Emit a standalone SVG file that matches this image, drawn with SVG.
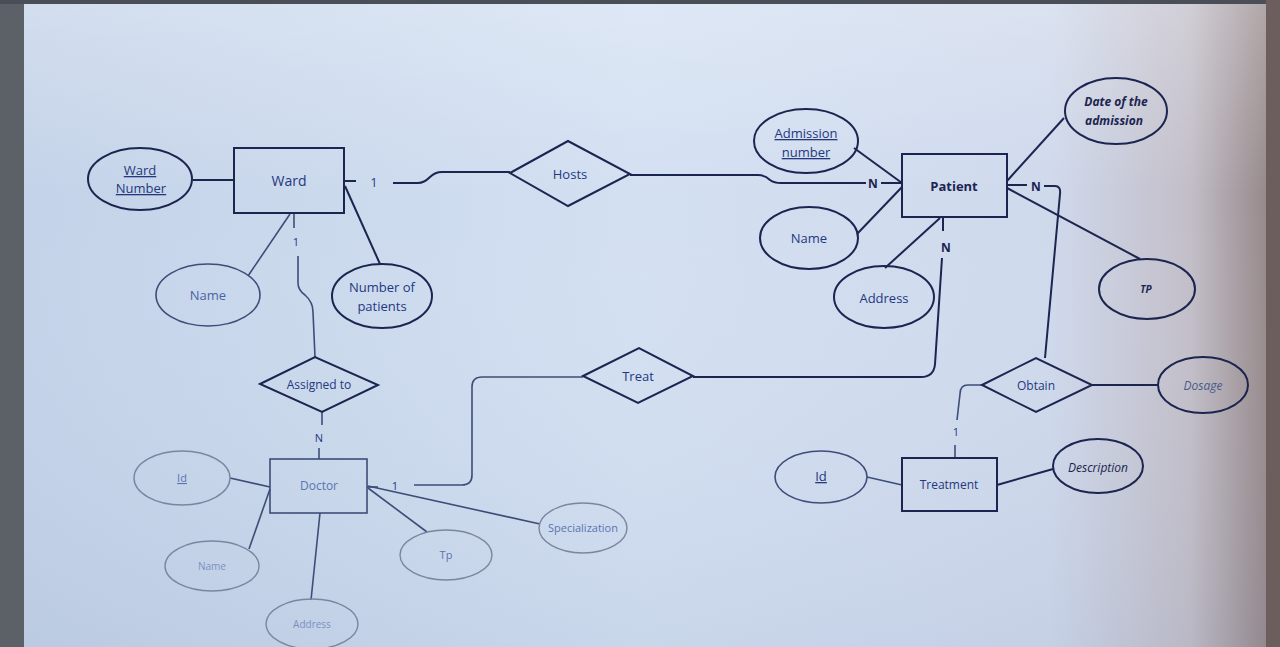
<svg xmlns="http://www.w3.org/2000/svg" width="1280" height="647" viewBox="0 0 1280 647">
<defs>
<linearGradient id="bg" x1="0" y1="0" x2="1" y2="0">
<stop offset="0" stop-color="#c3d2e8"/>
<stop offset="0.5" stop-color="#d3e0f2"/>
<stop offset="0.82" stop-color="#cfd9ec"/>
<stop offset="0.93" stop-color="#c2bec8"/>
<stop offset="1" stop-color="#8f8080"/>
</linearGradient>
<linearGradient id="bgv" x1="0" y1="0" x2="0" y2="1">
<stop offset="0" stop-color="#ffffff" stop-opacity="0.25"/>
<stop offset="0.3" stop-color="#ffffff" stop-opacity="0"/>
<stop offset="1" stop-color="#6a80a8" stop-opacity="0.1"/>
</linearGradient>
<style>
.s{fill:none;stroke:#1c2550;stroke-width:2}
.sl{fill:none;stroke:#3d4d78;stroke-width:1.6}
.f{fill:none;stroke:#7a869e;stroke-width:1.4}
.t{font-family:"Open Sans","Noto Sans",sans-serif;font-size:13px;fill:#24387e;text-anchor:middle}
.tf{font-family:"Open Sans","Noto Sans",sans-serif;font-size:11px;fill:#5a74b0;text-anchor:middle}
.td{font-family:"Open Sans","Noto Sans",sans-serif;font-size:12px;fill:#1c2550;text-anchor:middle;font-weight:bold}
.i{font-style:italic}
.u{text-decoration:underline}
</style>
</defs>
<rect x="0" y="0" width="1280" height="647" fill="url(#bg)"/>
<rect x="0" y="0" width="1280" height="647" fill="url(#bgv)"/>
<rect x="0" y="0" width="24" height="647" fill="#5c6168"/>
<rect x="0" y="0" width="1280" height="4" fill="#4a4e56"/>
<rect x="1266" y="0" width="14" height="647" fill="#6d5e5e"/>

<g id="connectors">
<!-- Ward - Hosts -->
<path class="s" d="M344 181 H356"/>
<text class="t" x="374" y="187" style="font-size:12px">1</text>
<path class="s" d="M393 183 H418 Q424 183 430 177 Q435 172 442 172 H510"/>
<!-- Hosts - Patient -->
<path class="s" d="M630 175 H758 Q765 175 770 180 Q774 183 781 183 H866"/>
<text class="td" x="873" y="188">N</text>
<path class="s" d="M881 183 H902"/>
<!-- Ward - Assigned to -->
<path class="sl" d="M294 214 V228"/>
<text class="t" x="296" y="246" style="font-size:11px">1</text>
<path class="sl" d="M298 256 V283 Q298 290 305 295 Q313 302 313 312 L315 357"/>
<!-- Assigned to - Doctor -->
<path class="sl" d="M322 412 V425"/>
<text class="t" x="319" y="442" style="font-size:11px">N</text>
<path class="sl" d="M319 448 V459"/>
<!-- Patient - Treat - Doctor -->
<path class="s" d="M943 218 V231"/>
<text class="td" x="946" y="252">N</text>
<path class="s" d="M942 258 L935 364 Q934 377 921 377 H693"/>
<path class="sl" d="M583 377 H482 Q472 377 472 387 V475 Q472 485 462 485 H414"/>
<text class="t" x="395" y="490" style="font-size:11px">1</text>
<path class="sl" d="M367 487 H378"/>
<!-- Patient - Obtain -->
<path class="s" d="M1007 185 H1027"/>
<text class="td" x="1036" y="191">N</text>
<path class="s" d="M1044 186 H1055 Q1061 186 1060 194 L1045 358"/>
<!-- Obtain - Treatment -->
<path class="sl" d="M982 385 H968 Q960 385 960 394 L957 420"/>
<text class="t" x="956" y="436" style="font-size:11px">1</text>
<path class="sl" d="M955 445 V458"/>
<!-- Ward attributes -->
<path class="s" d="M193 180 H234"/>
<path class="sl" d="M248 276 L290 214"/>
<path class="s" d="M345 186 L380 264"/>
<!-- Patient attributes -->
<path class="s" d="M854 148 L902 183"/>
<path class="s" d="M857 234 L902 187"/>
<path class="s" d="M885 268 L940 218"/>
<path class="s" d="M1007 181 L1064 118"/>
<path class="s" d="M1007 188 L1140 259"/>
<!-- Obtain / Treatment attributes -->
<path class="s" d="M1092 385 H1158"/>
<path class="sl" d="M867 477 L902 485"/>
<path class="s" d="M997 485 L1053 469"/>
<!-- Doctor attributes -->
<path class="sl" d="M230 478 L270 487"/>
<path class="sl" d="M249 549 L270 489"/>
<path class="sl" d="M311 600 L320 513"/>
<path class="sl" d="M427 532 L368 488"/>
<path class="sl" d="M540 524 L368 486"/>
</g>

<g id="ward">
<rect class="s" x="234" y="148" width="110" height="65"/>
<text class="t" x="289" y="186" style="font-size:14px">Ward</text>
</g>
<g id="ward-number">
<ellipse class="s" cx="140" cy="179" rx="52" ry="31"/>
<text class="t u" x="140" y="175">Ward</text>
<text class="t u" x="141" y="193">Number</text>
</g>
<g id="ward-name">
<ellipse class="sl" cx="208" cy="295" rx="52" ry="31"/>
<text class="t" x="208" y="300" style="fill:#4a64a4">Name</text>
</g>
<g id="number-of-patients">
<ellipse class="s" cx="382" cy="296" rx="50" ry="32"/>
<text class="t" x="382" y="292">Number of</text>
<text class="t" x="382" y="311">patients</text>
</g>
<g id="hosts">
<polygon class="s" points="510,173 568,141 630,174 568,206"/>
<text class="t" x="570" y="179">Hosts</text>
</g>
<g id="patient">
<rect class="s" x="902" y="154" width="105" height="63"/>
<text class="td" x="954" y="191" style="font-size:13px">Patient</text>
</g>
<g id="admission-number">
<ellipse class="s" cx="806" cy="141" rx="52" ry="32"/>
<text class="t u" x="806" y="138">Admission</text>
<text class="t u" x="806" y="157">number</text>
</g>
<g id="patient-name">
<ellipse class="s" cx="809" cy="238" rx="49" ry="31"/>
<text class="t" x="809" y="243">Name</text>
</g>
<g id="patient-address">
<ellipse class="s" cx="884" cy="297" rx="50" ry="31"/>
<text class="t" x="884" y="303">Address</text>
</g>
<g id="date-of-admission">
<ellipse class="s" cx="1116" cy="111" rx="51" ry="33"/>
<text class="td i" x="1116" y="106" style="font-size:12px;font-weight:bold">Date of the</text>
<text class="td i" x="1114" y="125" style="font-size:12px">admission</text>
</g>
<g id="patient-tp">
<ellipse class="s" cx="1147" cy="289" rx="48" ry="30"/>
<text class="td i" x="1146" y="293" style="font-size:10px">TP</text>
</g>
<g id="treat">
<polygon class="s" points="583,376 639,348 693,376 638,403"/>
<text class="t" x="638" y="381">Treat</text>
</g>
<g id="obtain">
<polygon class="s" points="982,385 1036,358 1092,385 1036,412"/>
<text class="td" x="1036" y="390" style="font-weight:normal;fill:#24387e">Obtain</text>
</g>
<g id="dosage">
<ellipse class="s" cx="1203" cy="385" rx="45" ry="28"/>
<text class="t i" x="1203" y="390" style="font-size:12px;fill:#4a5a8a">Dosage</text>
</g>
<g id="treatment">
<rect class="s" x="902" y="458" width="95" height="53"/>
<text class="t" x="949" y="489" style="font-size:12px">Treatment</text>
</g>
<g id="treatment-id">
<ellipse class="sl" cx="821" cy="477" rx="46" ry="26"/>
<text class="t u" x="821" y="481">Id</text>
</g>
<g id="description">
<ellipse class="s" cx="1098" cy="466" rx="45" ry="27"/>
<text class="t i" x="1098" y="472" style="font-size:12px;fill:#1c2550">Description</text>
</g>
<g id="assigned-to">
<polygon class="s" points="260,384 315,357 378,385 322,412"/>
<text class="t" x="319" y="389" style="font-size:12px">Assigned to</text>
</g>
<g id="doctor">
<rect class="sl" x="270" y="459" width="97" height="54"/>
<text class="tf" x="319" y="490" style="font-size:12px">Doctor</text>
</g>
<g id="doctor-id">
<ellipse class="f" cx="182" cy="478" rx="48" ry="27"/>
<text class="tf u" x="182" y="482">Id</text>
</g>
<g id="doctor-name">
<ellipse class="f" cx="212" cy="566" rx="47" ry="25"/>
<text class="tf" x="212" y="570" style="font-size:10px;fill:#7a90c0">Name</text>
</g>
<g id="doctor-address">
<ellipse class="f" cx="312" cy="624" rx="46" ry="25"/>
<text class="tf" x="312" y="628" style="font-size:10px;fill:#7a90c0">Address</text>
</g>
<g id="doctor-tp">
<ellipse class="f" cx="446" cy="555" rx="46" ry="25"/>
<text class="tf" x="446" y="559">Tp</text>
</g>
<g id="specialization">
<ellipse class="f" cx="583" cy="528" rx="44" ry="25"/>
<text class="tf" x="583" y="532">Specialization</text>
</g>
</svg>
